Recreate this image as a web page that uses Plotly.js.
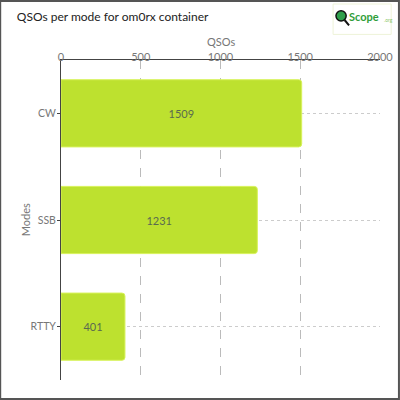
<!DOCTYPE html>
<html><head><meta charset="utf-8">
<script src="https://cdn.plot.ly/plotly-3.0.1.min.js"></script>
<style>html,body{margin:0;padding:0;background:#fff}#c{width:400px;height:400px}</style>
</head><body><div id="c"></div>
<script>
const modes = ["CW", "SSB", "RTTY"];
const qsos = [1509, 1231, 401];
const xTicks = [0, 500, 1000, 1500, 2000];

const F = "Lato, Open Sans, sans-serif";
const trace = {
  type: "bar", orientation: "h",
  y: modes, x: qsos,
  text: qsos.map(String), textposition: "inside", insidetextanchor: "middle",
  textfont: {family: F, size: 11, color: "#5a6a50"},
  marker: {color: "#bde12f", line: {color: "#d8f25a", width: 1}, cornerradius: 3},
  width: 0.63, hoverinfo: "none"
};
const layout = {
  width: 400, height: 400,
  margin: {l: 61, r: 20, t: 60, b: 20},
  paper_bgcolor: "#fff", plot_bgcolor: "#fff",
  font: {family: F, color: "#555"},
  title: {text: "QSOs per mode for om0rx container", x: 0.042, xanchor: "left", y: 0.958, yanchor: "middle",
          font: {family: F, size: 12, color: "#222"}},
  xaxis: {side: "top", range: [0, 2000], tickvals: xTicks, ticktext: xTicks.map(String),
          showline: true, linecolor: "#444", linewidth: 1, zeroline: false,
          showgrid: true, gridcolor: "#bbb", griddash: "dash", gridwidth: 1,
          ticks: "", ticklabelstandoff: -6,
          tickfont: {family: F, size: 11, color: "#777"}},
  yaxis: {autorange: "reversed", showline: true, linecolor: "#444", linewidth: 1,
          showgrid: true, gridcolor: "#ccc", griddash: "dot", gridwidth: 1,
          ticks: "outside", ticklen: 3, tickcolor: "#444", ticklabelstandoff: -1,
          tickfont: {family: F, size: 10.5, color: "#777"}},
  showlegend: false,
  shapes: [
    {type: "rect", xref: "paper", yref: "paper", x0: -0.1906, x1: 1.0594, y0: -0.0594, y1: 1.1844,
     line: {color: "#555", width: 2}, fillcolor: "rgba(0,0,0,0)", layer: "above"},
    {type: "rect", xref: "paper", yref: "paper", x0: 0.853, x1: 1.035, y0: 1.08, y1: 1.175,
     line: {color: "#eef3d8", width: 1}, fillcolor: "rgba(0,0,0,0)"},
    {type: "circle", xref: "paper", yref: "paper", x0: 0.862, x1: 0.894, y0: 1.122, y1: 1.154,
     line: {color: "#111", width: 1.5}, fillcolor: "#2e9e4a"},
    {type: "line", xref: "paper", yref: "paper", x0: 0.889, x1: 0.903, y0: 1.125, y1: 1.108,
     line: {color: "#111", width: 2}}
  ],
  annotations: [
    {xref: "paper", yref: "paper", x: 0.5, y: 1.058, xanchor: "center", yanchor: "middle", showarrow: false,
     text: "QSOs", font: {family: F, size: 11, color: "#777"}},
    {xref: "paper", yref: "paper", x: -0.112, y: 0.5, xanchor: "center", yanchor: "middle", showarrow: false,
     textangle: -90, text: "Modes", font: {family: F, size: 11, color: "#777"}},
    {xref: "paper", yref: "paper", x: 0.897, y: 1.137, xanchor: "left", yanchor: "middle", showarrow: false,
     text: "<b>Scope</b>", font: {family: F, size: 11, color: "#2f9e3a"}},
    {xref: "paper", yref: "paper", x: 1.006, y: 1.124, xanchor: "left", yanchor: "middle", showarrow: false,
     text: ".org", font: {family: F, size: 5, color: "#8cc86a"}}
  ]
};
Plotly.newPlot("c", [trace], layout, {displayModeBar: false, staticPlot: true});
</script></body></html>
